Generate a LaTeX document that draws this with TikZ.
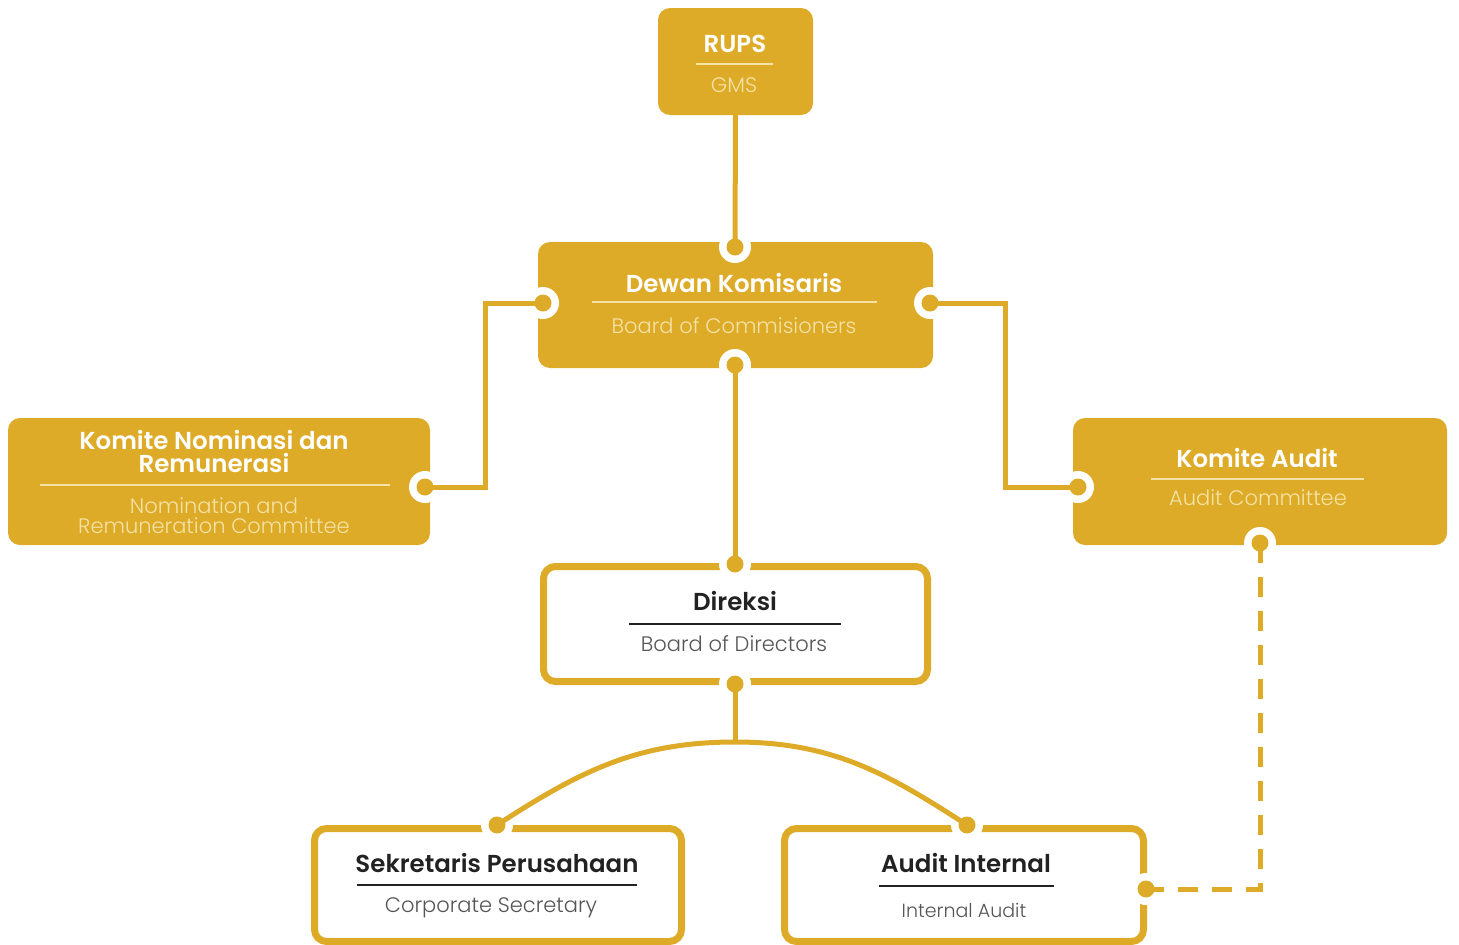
\documentclass[tikz,border=0pt]{standalone}
\usepackage{fontspec}
\setmainfont{Poppins}[BoldFont=* SemiBold]
\newfontfamily\lightfont{Poppins}[UprightFont=* Light]
\definecolor{gold}{HTML}{DDAB27}
\definecolor{cream}{HTML}{F4E2A6}
\definecolor{ink}{HTML}{222222}
\definecolor{grey}{HTML}{555555}

\begin{document}
\begin{tikzpicture}[x=1pt,y=-1pt,
    solidbox/.style={fill=gold, rounded corners=12pt, inner sep=0pt},
    linebox/.style={draw=gold, fill=white, line width=7pt, rounded corners=12pt, inner sep=0pt},
    head/.style={font=\fontsize{24.5}{23}\selectfont\bfseries, align=center, inner sep=0pt},
    sub/.style={font=\lightfont\fontsize{21}{20}\selectfont, align=center, inner sep=0pt},
    rule/.style={line width=1.3pt},
    conn/.style={gold, line width=5pt},
    dashconn/.style={conn, dash pattern=on 20pt off 14pt}]
    \clip (0,0) rectangle (1459,945);

    % boxes
    \node[solidbox, minimum width=155pt, minimum height=107pt] (rups) at (735.5,61.5) {};
    \node[solidbox, minimum width=395pt, minimum height=126pt] (dewan) at (735.5,305) {};
    \node[solidbox, minimum width=422pt, minimum height=127pt] (nomrem) at (219,481.5) {};
    \node[solidbox, minimum width=374pt, minimum height=127pt] (kaudit) at (1260,481.5) {};
    \node[linebox, minimum width=384pt, minimum height=115pt] (direksi) at (735.5,624) {};
    \node[linebox, minimum width=367pt, minimum height=113pt] (sekper) at (498,885) {};
    \node[linebox, minimum width=359pt, minimum height=113pt] (audint) at (964,885) {};

    % texts
    \node[head, white] (rupsT) at (735,44) {RUPS};
    \node[sub, cream] (rupsS) at (734,85) {GMS};
    \draw[rule, cream] (696,64) -- (773,64);
    \node[head, white] (dewanT) at (734,283) {Dewan Komisaris};
    \node[sub, cream] (dewanS) at (734,326) {Board of Commisioners};
    \draw[rule, cream] (592,302) -- (877,302);
    \node[head, white] (nomremT) at (214,451) {Komite Nominasi dan\\Remunerasi};
    \node[sub, cream] (nomremS) at (214,516) {Nomination and\\Remuneration Committee};
    \draw[rule, cream] (40,485) -- (390,485);
    \node[head, white] (kauditT) at (1257,458) {Komite Audit};
    \node[sub, cream] (kauditS) at (1258,498) {Audit Committee};
    \draw[rule, cream] (1151,479) -- (1364,479);
    \node[head, ink] (direksiT) at (735,601) {Direksi};
    \node[sub, grey] (direksiS) at (734,644) {Board of Directors};
    \draw[rule, ink] (629,624) -- (841,624);
    \node[head, ink] (sekperT) at (497,863) {Sekretaris Perusahaan};
    \node[sub, grey] (sekperS) at (491,908) {Corporate Secretary};
    \draw[rule, ink] (357,885) -- (637,885);
    \node[head, ink] (audintT) at (966,863) {Audit Internal};
    \node[sub, grey, font=\lightfont\fontsize{19}{18}\selectfont] (audintS) at (964,910) {Internal Audit};
    \draw[rule, ink] (879,886) -- (1054,886);

    % connection points
    \coordinate (dewanN) at (735,247);
    \coordinate (dewanW) at (543,303);
    \coordinate (dewanE) at (930,303);
    \coordinate (dewanS) at (735,365);
    \coordinate (nomremE) at (425,487);
    \coordinate (kauditW) at (1078,487);
    \coordinate (kauditS) at (1260,543);
    \coordinate (direksiN) at (735,564);
    \coordinate (direksiS) at (735,684);
    \coordinate (sekperN) at (497,825);
    \coordinate (audintN) at (967,825);
    \coordinate (audintE) at (1146,889);
    \coordinate (apex) at (735,742);

    \foreach \p in {dewanN,dewanW,dewanE,dewanS,nomremE,kauditW,kauditS,
                    direksiN,direksiS,sekperN,audintN,audintE}
        \fill[white] (\p) circle (16);

    % connectors
    \draw[conn] (rups.south) -- (dewanN);
    \draw[conn] (dewanW) -| (485,487) -- (nomremE);
    \draw[conn] (dewanE) -| (1005,487) -- (kauditW);
    \draw[conn] (dewanS) -- (direksiN);
    \draw[conn] (direksiS) -- (apex);
    \draw[conn] (sekperN) to[out=33,in=180] (apex) to[out=0,in=147] (audintN);
    \draw[dashconn] (kauditS) |- (audintE);

    \foreach \p in {dewanN,dewanW,dewanE,dewanS,nomremE,kauditW,kauditS,
                    direksiN,direksiS,sekperN,audintN,audintE}
        \fill[gold] (\p) circle (8.5);
\end{tikzpicture}
\end{document}
